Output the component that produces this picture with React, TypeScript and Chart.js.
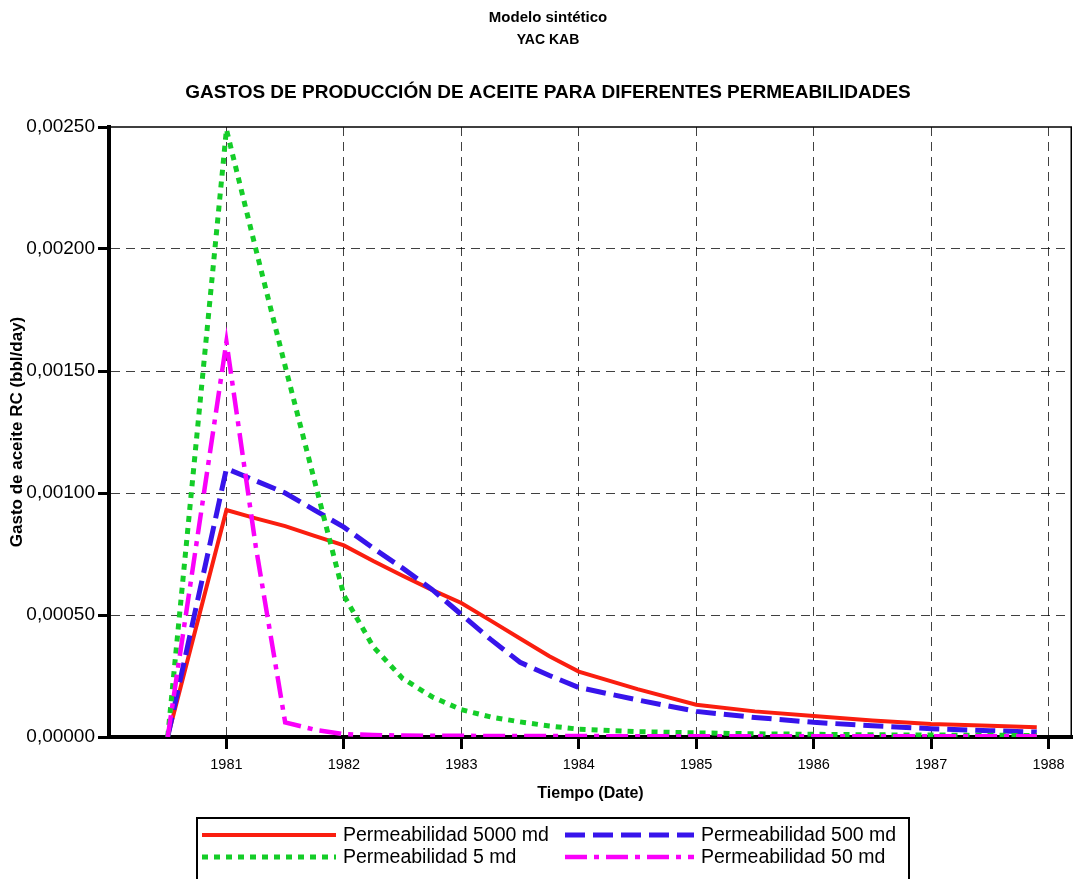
import React, { useEffect, useRef } from 'react';
import { Chart, registerables } from 'chart.js';

Chart.register(...registerables);

// ---- data ----
const TIME = [1980.5, 1981.0, 1981.25, 1981.5, 1981.75, 1982.0, 1982.25, 1982.5, 1982.75, 1983.0, 1983.25, 1983.5, 1983.75, 1984.0, 1984.5, 1985.0, 1985.5, 1986.0, 1986.5, 1987.0, 1987.5, 1987.9];

const PERM_5000 = [0, 0.00093, 0.000896, 0.000864, 0.000824, 0.000785, 0.000721, 0.000661, 0.000603, 0.000549, 0.000477, 0.000404, 0.000331, 0.000268, 0.000196, 0.000132, 0.000105, 0.000086, 0.000068, 0.000053, 0.000046, 0.00004];
const PERM_500 = [0, 0.0011, 0.00105, 0.001, 0.00093, 0.00086, 0.000774, 0.000692, 0.000605, 0.000502, 0.0004, 0.000306, 0.000252, 0.000203, 0.000152, 0.000105, 0.00008, 0.00006, 0.000046, 0.000034, 0.000026, 0.00002];
const PERM_5 = [0, 0.00249, 0.002, 0.00152, 0.00105, 0.00058, 0.00037, 0.00024, 0.000165, 0.000112, 0.000082, 0.000062, 0.000045, 0.000032, 0.000022, 0.000017, 0.000013, 0.000011, 0.000009, 0.000008, 0.000007, 0.000006];
const PERM_50 = [0, 0.00162, 0.00078, 0.00006, 0.00003, 0.000012, 0.000008, 0.000006, 0.000005, 0.000005, 0.000004, 0.000004, 0.000004, 0.000004, 0.000003, 0.000003, 0.000003, 0.000003, 0.000003, 0.000003, 0.000003, 0.000003];

const SERIES_LABELS = ['Permeabilidad 5000 md', 'Permeabilidad 500 md', 'Permeabilidad 5 md', 'Permeabilidad 50 md'];
const TITLE_LINES = ['Modelo sintético', 'YAC KAB', 'GASTOS DE PRODUCCIÓN DE ACEITE PARA DIFERENTES PERMEABILIDADES'];
const X_TITLE = 'Tiempo (Date)';
const Y_TITLE = 'Gasto de aceite RC (bbl/day)';
const X_MIN = 1980;
const X_MAX = 1988.2;
const Y_MIN = 0;
const Y_MAX = 0.0025;
const Y_STEP = 0.0005;

const FONT = '"Liberation Sans", Arial, Helvetica, sans-serif';

const toPoints = (vals: number[]) => TIME.map((t, i) => ({ x: t, y: vals[i] }));

const decorPlugin = {
  id: 'decor',
  afterDraw(chart: any) {
    const { ctx, chartArea: a } = chart;
    ctx.save();
    ctx.setLineDash([]);
    // top and right frame
    ctx.strokeStyle = '#000';
    ctx.lineWidth = 1.5;
    ctx.beginPath();
    ctx.moveTo(a.left, a.top);
    ctx.lineTo(a.right - 0.75, a.top);
    ctx.lineTo(a.right - 0.75, a.bottom);
    ctx.stroke();

    // titles
    ctx.fillStyle = '#000';
    ctx.textAlign = 'center';
    ctx.textBaseline = 'middle';
    const cx = 548;
    ctx.font = `bold 15px ${FONT}`;
    ctx.fillText(TITLE_LINES[0], cx, 18);
    ctx.font = `bold 14px ${FONT}`;
    ctx.fillText(TITLE_LINES[1], cx, 40);
    ctx.font = `bold 19px ${FONT}`;
    ctx.fillText(TITLE_LINES[2], cx, 93);

    // legend
    const bx = 196, by = 817, bw = 712, bh = 80;
    ctx.lineWidth = 2;
    ctx.strokeStyle = '#000';
    ctx.strokeRect(bx + 1, by + 1, bw, bh);
    const slots = [
      { x: 202, y: 835, len: 134 },
      { x: 565, y: 835, len: 129 },
      { x: 202, y: 857, len: 134 },
      { x: 565, y: 857, len: 129 },
    ];
    chart.data.datasets.forEach((ds: any, i: number) => {
      const s = slots[i];
      ctx.save();
      ctx.strokeStyle = ds.borderColor;
      ctx.lineWidth = ds.borderWidth;
      ctx.setLineDash(ds.borderDash || []);
      ctx.lineCap = 'butt';
      ctx.beginPath();
      ctx.moveTo(s.x, s.y);
      ctx.lineTo(s.x + s.len, s.y);
      ctx.stroke();
      ctx.restore();
      ctx.fillStyle = '#000';
      ctx.textAlign = 'left';
      ctx.textBaseline = 'middle';
      ctx.font = `19.5px ${FONT}`;
      ctx.fillText(ds.label, s.x + s.len + 7, s.y + 1);
    });
    ctx.restore();
  },
};

export default function App() {
  const ref = useRef<HTMLCanvasElement | null>(null);

  useEffect(() => {
    if (!ref.current) return;
    const gridColor = 'rgba(0,0,0,0.75)';
    const chart = new Chart(ref.current, {
      type: 'line',
      data: {
        datasets: [
          {
            label: SERIES_LABELS[0],
            data: toPoints(PERM_5000),
            borderColor: 'rgb(250,30,15)',
            borderWidth: 4,
            borderDash: [],
            order: 3,
          },
          {
            label: SERIES_LABELS[1],
            data: toPoints(PERM_500),
            borderColor: 'rgb(55,20,235)',
            borderWidth: 5,
            borderDash: [20, 8],
            order: 2,
          },
          {
            label: SERIES_LABELS[2],
            data: toPoints(PERM_5),
            borderColor: 'rgb(20,205,40)',
            borderWidth: 5,
            borderDash: [6, 6],
            order: 1,
          },
          {
            label: SERIES_LABELS[3],
            data: toPoints(PERM_50),
            borderColor: 'rgb(250,0,250)',
            borderWidth: 4.5,
            borderDash: [22, 7, 5, 7],
            order: 0,
          },
        ] as any,
      },
      options: {
        animation: false,
        responsive: false,
        devicePixelRatio: 1,
        layout: { padding: { top: 127, right: 1, bottom: 76, left: 0 } },
        elements: {
          point: { radius: 0, hoverRadius: 0 },
          line: { tension: 0, fill: false, borderCapStyle: 'butt', borderJoinStyle: 'miter' },
        },
        plugins: {
          legend: { display: false },
          title: { display: false },
          tooltip: { enabled: false },
        },
        scales: {
          x: {
            type: 'linear',
            min: X_MIN,
            max: X_MAX,
            afterFit: (s: any) => { s.height = 66; },
            ticks: {
              stepSize: 1,
              includeBounds: false,
              autoSkip: false,
              maxRotation: 0,
              padding: 7,
              color: '#000',
              font: { family: FONT, size: 14.5 },
              callback: (v: any) => (Math.round(v) === X_MIN ? '' : String(Math.round(v))),
            },
            grid: {
              color: (c: any) => (c.tick && Math.round(c.tick.value) === X_MIN ? 'rgba(0,0,0,0)' : gridColor),
              lineWidth: 1,
              tickLength: 12,
              tickWidth: 3,
              tickColor: (c: any) => (c.tick && Math.round(c.tick.value) === X_MIN ? 'rgba(0,0,0,0)' : '#000'),
              tickBorderDash: [],
            },
            border: { display: true, color: '#000', width: 4, dash: [9, 6] },
            title: {
              display: true,
              text: X_TITLE,
              color: '#000',
              font: { family: FONT, size: 16, weight: 'bold' },
              padding: { top: 0, bottom: 0 },
            },
          },
          y: {
            type: 'linear',
            min: Y_MIN,
            max: Y_MAX,
            afterFit: (s: any) => { s.width = 109; },
            ticks: {
              stepSize: Y_STEP,
              padding: 3,
              color: '#000',
              font: { family: FONT, size: 19 },
              callback: (v: any) => Number(v).toFixed(5).replace('.', ','),
            },
            grid: {
              color: (c: any) => (c.index === 0 || c.index === 5 ? 'rgba(0,0,0,0)' : gridColor),
              lineWidth: 1,
              tickLength: 11,
              tickWidth: 3,
              tickColor: '#000',
              tickBorderDash: [],
            },
            border: { display: true, color: '#000', width: 4, dash: [9, 6] },
            title: {
              display: true,
              text: Y_TITLE,
              color: '#000',
              font: { family: FONT, size: 17, weight: 'bold' },
              padding: { top: 7, bottom: 0 },
            },
          },
        },
      } as any,
      plugins: [decorPlugin],
    });
    return () => chart.destroy();
  }, []);

  return (
    <div style={{ position: 'absolute', left: 0, top: 0, width: 1073, height: 879, background: '#fff' }}>
      <canvas ref={ref} width={1073} height={879} style={{ display: 'block' }} />
    </div>
  );
}
